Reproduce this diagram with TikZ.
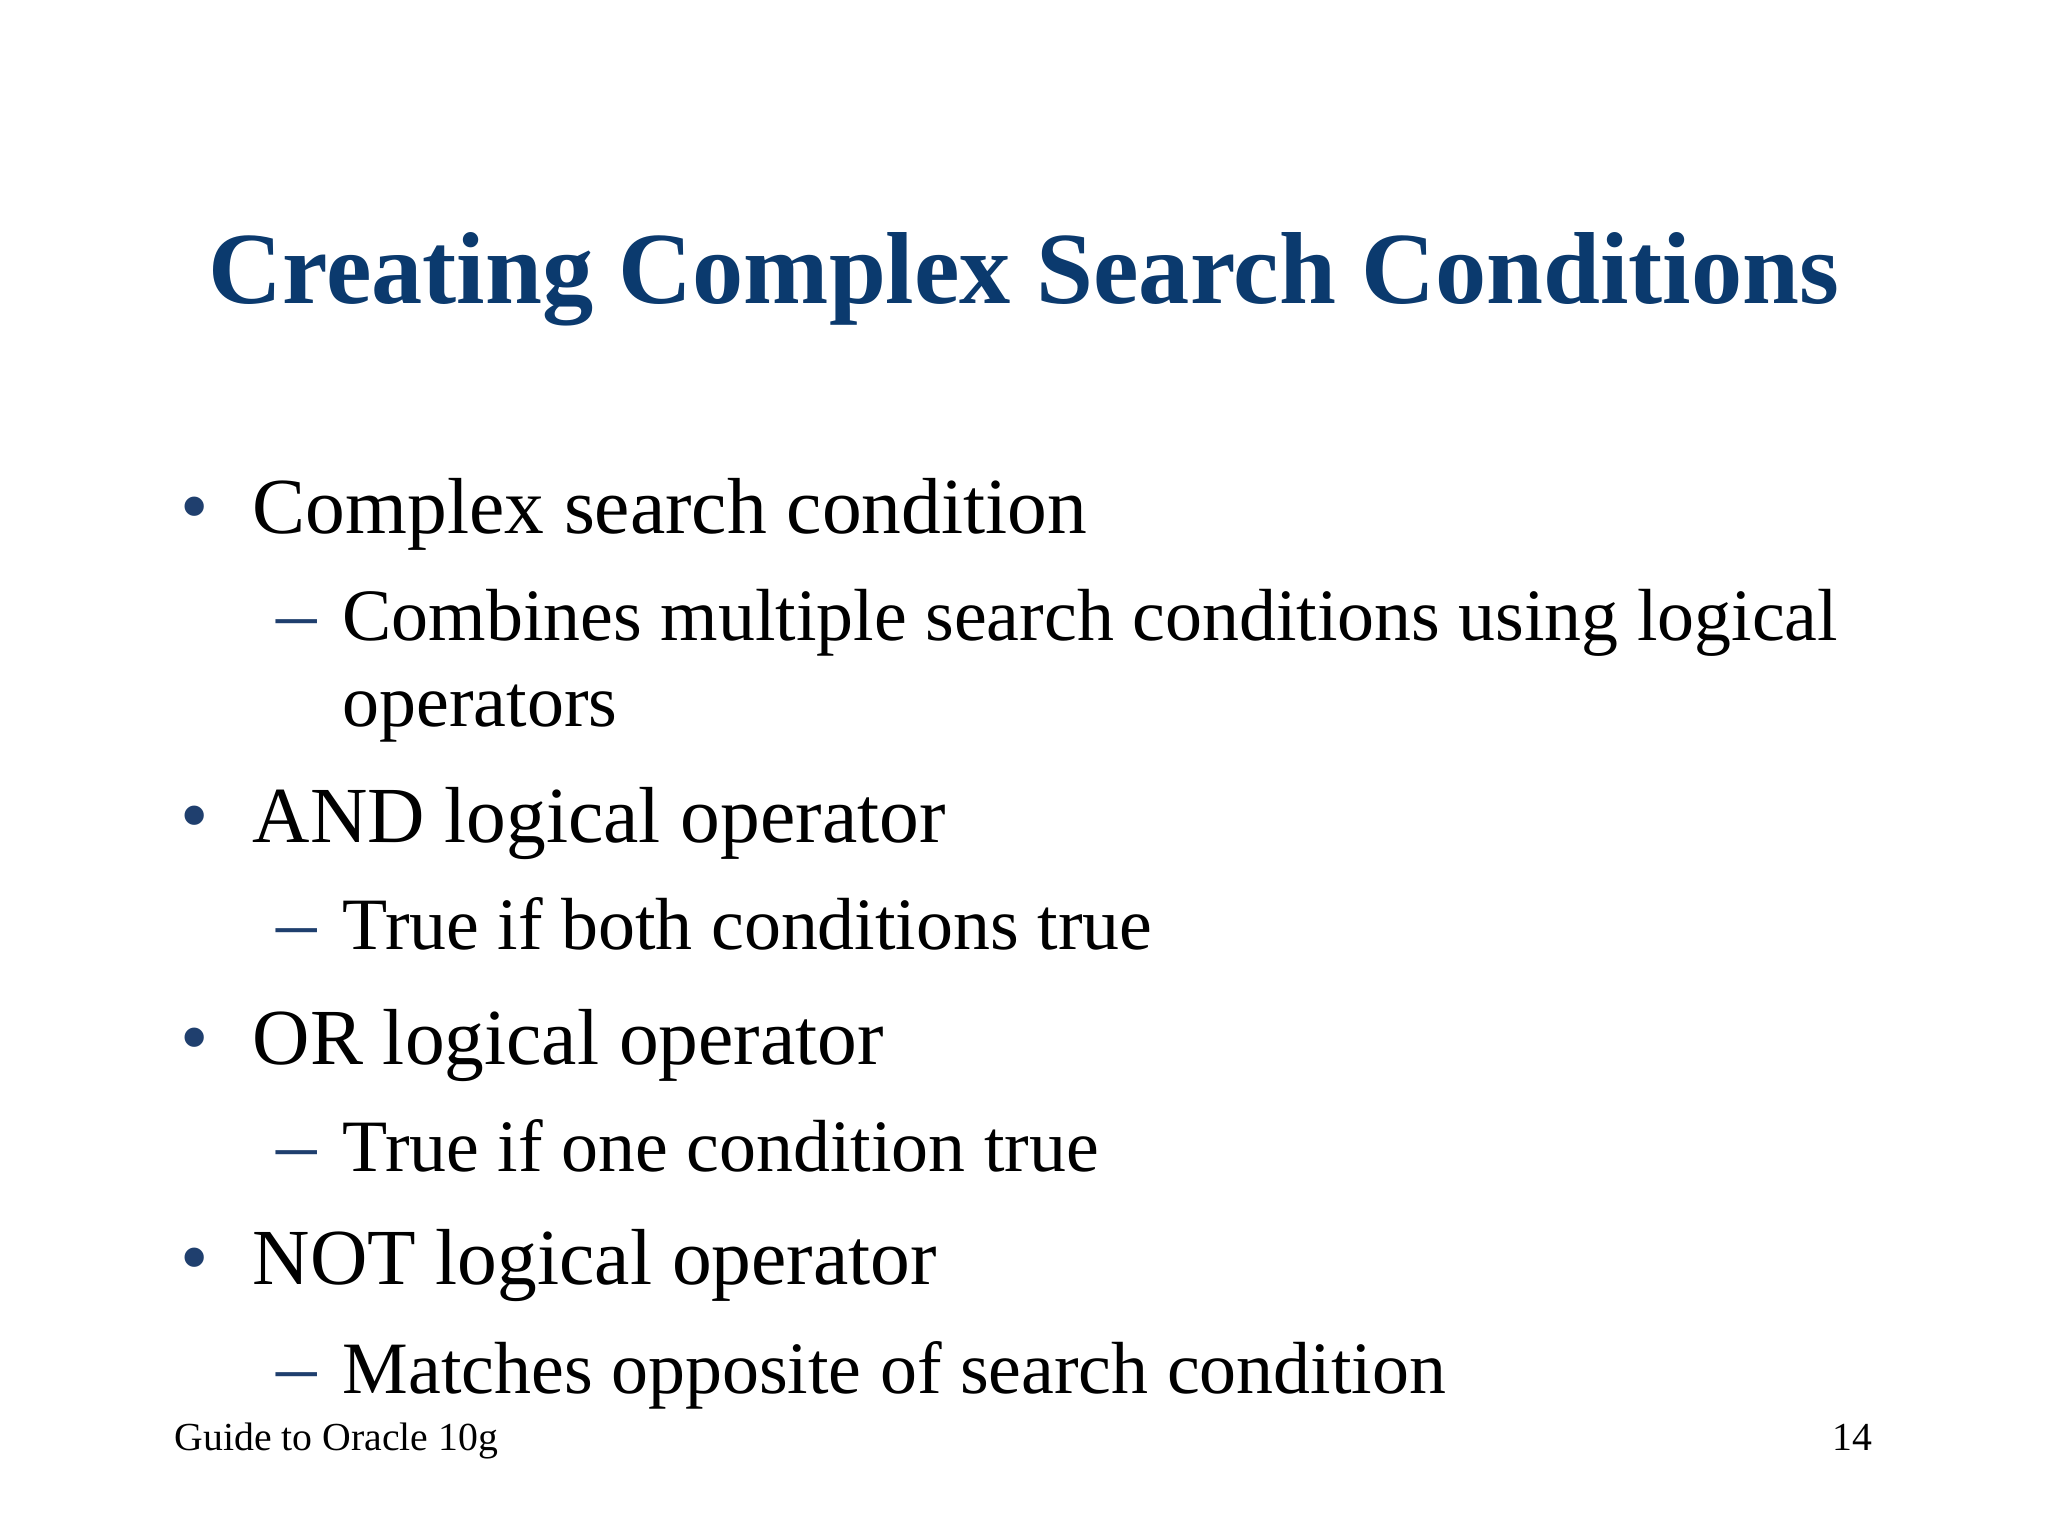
\documentclass[tikz,border=0pt]{standalone}
\usepackage{fontspec}
\setmainfont{Liberation Serif}
\definecolor{titleblue}{HTML}{0B3A6E}
\definecolor{bulletblue}{HTML}{1F3F6E}
\begin{document}
\begin{tikzpicture}[x=0.01cm,y=-0.01cm,
  lvlone/.style={anchor=base west,inner sep=0pt,font=\fontsize{22.6}{27}\selectfont},
  lvltwo/.style={anchor=base west,inner sep=0pt,font=\fontsize{21}{25}\selectfont},
  bul/.style={anchor=base west,inner sep=0pt,text=bulletblue,font=\fontsize{23}{26}\selectfont},
  foot/.style={inner sep=0pt,font=\fontsize{11.3}{13}\selectfont}]
\useasboundingbox[fill=white] (0,0) rectangle (2048,1536);
\node[anchor=base,inner sep=0pt,text=titleblue,font=\fontsize{29.1}{35}\selectfont\bfseries] (title) at (1024,303) {Creating Complex Search Conditions};
\node[bul] (b1) at (180,533) {•};
\node[lvlone] (t1) at (252,533) {Complex search condition};
\node[bul] (d1) at (276,640) {–};
\node[lvltwo] (s1) at (342,640) {Combines multiple search conditions using logical};
\node[lvltwo] (s1b) at (342,726) {operators};
\node[bul] (b2) at (180,842) {•};
\node[lvlone] (t2) at (252,842) {AND logical operator};
\node[bul] (d2) at (276,949) {–};
\node[lvltwo] (s2) at (342,949) {True if both conditions true};
\node[bul] (b3) at (180,1064) {•};
\node[lvlone] (t3) at (252,1064) {OR logical operator};
\node[bul] (d3) at (276,1171) {–};
\node[lvltwo] (s3) at (342,1171) {True if one condition true};
\node[bul] (b4) at (180,1284) {•};
\node[lvlone] (t4) at (252,1284) {NOT logical operator};
\node[bul] (d4) at (276,1393) {–};
\node[lvltwo] (s4) at (342,1393) {Matches opposite of search condition};
\node[foot,anchor=base west] (f1) at (174,1450) {Guide to Oracle 10g};
\node[foot,anchor=base east] (f2) at (1873,1450) {14};
\end{tikzpicture}
\end{document}
